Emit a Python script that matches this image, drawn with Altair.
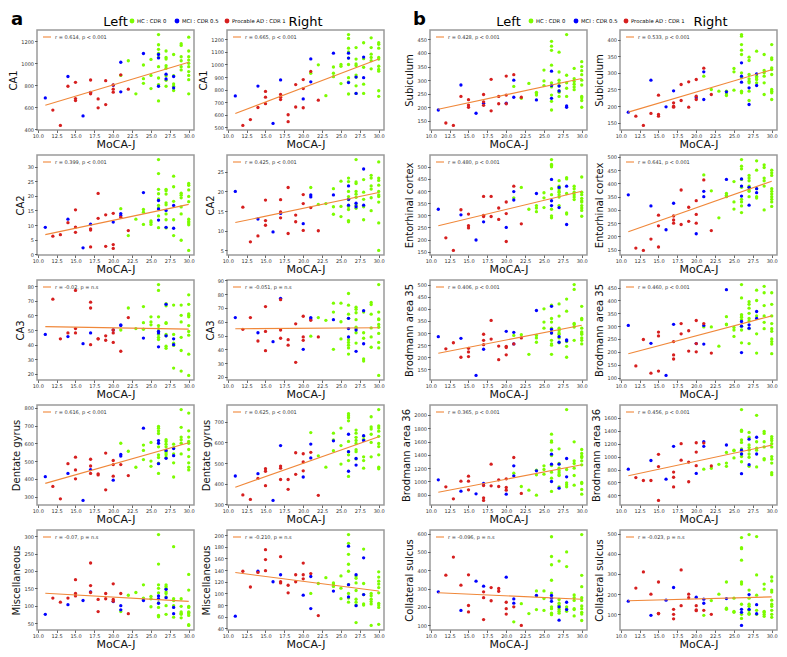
import altair as alt
import pandas as pd

GROUPS = ["HC : CDR 0", "MCI : CDR 0.5", "Procable AD : CDR 1"]
COLORS = ["#7CFC00", "#0000FF", "#D61F1F"]
LINE_COLOR = "#F0883A"

X_TICKS = [10.0, 12.5, 15.0, 17.5, 20.0, 22.5, 25.0, 27.5, 30.0]

GREEN_MOCA = [21, 22, 23, 24, 24, 24, 25, 25, 25,
              26, 26, 26, 26, 26, 26, 26, 26, 26,
              27, 27, 27, 27, 27, 27, 27, 27,
              28, 28, 28, 28, 28,
              29, 29, 29, 29, 29, 29,
              30, 30, 30, 30, 30, 30, 30, 30, 30, 30]
BLUE_MOCA = [11, 14, 16, 17, 20, 21, 21, 24, 26, 26, 26, 27, 27, 28, 28]
RED_MOCA = [12, 13, 14, 15, 15, 15, 17, 17, 17, 18, 18, 19, 19, 20, 20, 20, 21, 22]

# ---- panel a ----
CA1_L = dict(
    red=[573, 433, 791, 827, 678, 660, 848, 731, 722, 675, 594, 842, 624, 803, 764, 737, 895, 764],
    blue=[684, 880, 520, 735, 800, 1010, 740, 1090, 1081, 791, 1050, 901, 857, 880, 776],
    green=[890, 1024, 722, 985, 860, 818, 1036, 890, 770, 1263, 1170, 1128, 1090, 1054, 970, 866, 806, 657,
           1113, 1054, 1039, 979, 955, 887, 845, 791, 1081, 887, 812, 752, 791, 1179, 1164, 1060, 1024, 940, 970,
           1239, 1113, 1030, 1000, 970, 925, 890, 851, 722, 1060])
CA1_R = dict(
    red=[515, 562, 658, 786, 740, 688, 762, 721, 740, 600, 545, 840, 662, 880, 808, 656, 945, 716],
    blue=[750, 828, 531, 877, 726, 1044, 862, 1090, 1090, 1051, 856, 900, 770, 1059, 895],
    green=[930, 997, 752, 980, 930, 903, 1000, 986, 848, 1238, 1207, 1130, 1100, 1051, 1000, 895, 862, 765,
           1134, 1043, 1004, 991, 916, 900, 830, 770, 1173, 1046, 978, 843, 770, 1212, 1134, 1082, 1056, 1030, 965,
           1173, 1160, 1130, 1056, 1043, 986, 960, 947, 791, 747])
CA2_L = dict(
    red=[6.2, 6.7, 10.8, 15.2, 9.3, 7.5, 8.7, 8.3, 2.5, 20.8, 12.3, 13.5, 2.7, 14.0, 3.3, 2.0, 12.7, 8.1],
    blue=[9.2, 12.0, 2.2, 10.3, 11.0, 13.9, 13.3, 21.1, 18.4, 11.7, 15.5, 15.0, 9.2, 16.7, 8.9],
    green=[15.6, 6.4, 12.0, 15.3, 14.4, 10.2, 11.4, 10.9, 10.2, 32.4, 27.6, 22.2, 20.7, 18.9, 16.7, 15.8, 13.1, 9.1,
           22.2, 21.7, 20.6, 17.6, 16.9, 13.8, 11.8, 9.0, 26.7, 23.1, 18.1, 11.8, 6.4, 20.9, 20.2, 19.3, 16.2, 13.8, 4.8,
           24.2, 23.6, 22.0, 19.8, 18.0, 12.0, 11.2, 10.7, 10.1, 1.3])
CA2_R = dict(
    red=[16.0, 7.2, 8.7, 17.8, 12.6, 11.4, 17.9, 13.3, 14.8, 21.0, 9.3, 12.3, 14.0, 19.2, 16.9, 10.1, 15.9, 10.0],
    blue=[20.0, 13.0, 9.7, 14.4, 11.8, 19.1, 18.6, 19.1, 21.4, 16.5, 18.0, 17.0, 16.1, 25.7, 16.5],
    green=[21.0, 16.7, 16.9, 20.7, 16.1, 14.2, 22.6, 16.2, 13.6, 23.4, 22.5, 20.0, 18.7, 17.9, 16.2, 15.4, 12.6, 12.3,
           28.1, 22.4, 22.0, 20.0, 19.3, 18.5, 16.5, 15.7, 23.0, 19.8, 18.0, 16.1, 12.8, 24.1, 23.4, 21.4, 20.6, 18.4, 15.1,
           27.5, 23.4, 22.8, 21.6, 20.0, 19.1, 18.7, 17.3, 12.0, 5.0])
CA3_L = dict(
    red=[71, 44, 48, 77, 51, 48, 69, 65, 40, 44, 44, 46, 43, 50, 48, 41.5, 35.5, 58.5],
    blue=[47, 45.5, 40.7, 48, 50, 53.5, 53, 44.5, 49, 38.5, 48, 67.5, 46, 44, 40],
    green=[50, 65, 51, 66, 55, 50.5, 59, 55.5, 53.5, 81, 77, 59, 53, 51, 49, 47, 45, 43.5,
           68, 66.5, 55, 54.5, 47, 46, 39, 37.5, 67, 47, 41, 39.5, 24, 67, 60, 55.5, 45, 36, 22,
           74, 67.5, 61, 60, 59, 53, 49, 46.5, 33.5, 19])
CA3_R = dict(
    red=[54.5, 63, 46, 71, 53, 39, 76, 54, 48, 43, 47, 58.5, 30.5, 64, 49, 46.5, 61, 49],
    blue=[63, 52, 45.5, 77, 40, 63, 62, 61.5, 62.5, 49, 55, 54, 38.5, 68, 44],
    green=[49.5, 63, 61, 73.5, 67, 40, 73.5, 47.5, 60, 80.5, 72, 65.5, 62.5, 47, 45, 43, 41, 36.5,
           70.5, 69, 66.5, 61.5, 56, 55, 44.5, 52, 67, 52, 33, 31.5, 48, 74, 72.5, 65.5, 55.5, 49, 41.5,
           87, 67, 62, 61.5, 56, 51.5, 45, 41, 21, 58])
DG_L = dict(
    red=[357, 287, 485, 522, 450, 400, 510, 472, 430, 428, 422, 545, 338, 503, 480, 415, 480, 418],
    blue=[412, 430, 278, 452, 392, 537, 528, 685, 615, 485, 600, 515, 560, 570, 530],
    green=[600, 555, 465, 590, 508, 560, 605, 500, 470, 695, 685, 670, 655, 580, 535, 520, 488, 430,
           620, 610, 595, 580, 555, 545, 535, 520, 595, 575, 490, 410, 540, 790, 690, 635, 600, 620, 540,
           770, 670, 635, 610, 600, 565, 525, 465, 450, 490])
DG_R = dict(
    red=[345, 323, 425, 472, 460, 390, 485, 475, 420, 420, 372, 550, 445, 545, 505, 462, 552, 343],
    blue=[437, 448, 318, 585, 432, 592, 525, 608, 640, 460, 555, 522, 490, 633, 610],
    green=[648, 535, 480, 645, 612, 560, 670, 585, 495, 740, 730, 720, 705, 605, 555, 540, 512, 435,
           660, 645, 625, 610, 595, 565, 555, 520, 630, 615, 530, 512, 475, 725, 675, 665, 640, 600, 530,
           760, 680, 670, 655, 630, 595, 580, 540, 480, 472])
MISC_L = dict(
    red=[122, 110, 122, 175, 135, 128, 223, 158, 138, 83, 118, 135, 120, 163, 118, 113, 135, 77],
    blue=[75, 103, 115, 140, 112, 100, 88, 115, 128, 107, 120, 147, 123, 95, 77],
    green=[83, 130, 138, 160, 122, 118, 127, 120, 97, 305, 220, 160, 150, 137, 108, 95, 72, 68,
           160, 155, 150, 140, 135, 125, 75, 100, 270, 120, 115, 67, 100, 120, 98, 82, 78, 75, 65,
           190, 145, 98, 95, 82, 80, 77, 72, 45, 43])
MISC_R = dict(
    red=[138, 111, 136, 175, 158, 139, 163, 120, 118, 114, 101, 132, 120, 152, 132, 125, 134, 62],
    blue=[61, 138, 120, 132, 97, 129, 74, 104, 181, 94, 115, 132, 79, 161, 98],
    green=[100, 117, 127, 118, 116, 112, 130, 109, 91, 201, 186, 167, 150, 138, 115, 100, 92, 85,
           130, 126, 118, 105, 90, 85, 80, 50, 176, 117, 82, 80, 98, 100, 96, 90, 86, 82, 45,
           137, 128, 121, 116, 101, 83, 80, 76, 47, 110])

# ---- panel b ----
SUB_L = dict(
    red=[142, 133, 240, 228, 208, 200, 247, 207, 220, 303, 187, 240, 213, 315, 245, 213, 320, 237],
    blue=[190, 282, 178, 215, 215, 300, 237, 227, 333, 233, 280, 278, 260, 205, 200],
    green=[277, 233, 288, 255, 250, 245, 337, 297, 280, 443, 425, 410, 355, 290, 275, 245, 222, 190,
           403, 330, 300, 290, 280, 260, 255, 240, 468, 318, 270, 240, 290, 343, 305, 295, 285, 275, 265,
           368, 350, 335, 320, 282, 240, 235, 225, 200, 300])
SUB_R = dict(
    red=[170, 142, 178, 233, 175, 170, 200, 197, 210, 265, 217, 273, 197, 280, 230, 220, 314, 235],
    blue=[182, 278, 198, 246, 225, 303, 220, 243, 330, 272, 290, 255, 205, 297, 262],
    green=[290, 250, 245, 245, 237, 232, 313, 303, 248, 415, 410, 385, 368, 355, 300, 285, 245, 240,
           347, 337, 295, 282, 275, 270, 245, 217, 365, 290, 285, 270, 280, 355, 307, 300, 290, 270, 235,
           385, 345, 340, 315, 295, 250, 245, 240, 220, 310])
EC_L = dict(
    red=[207, 155, 323, 305, 257, 248, 378, 295, 300, 378, 295, 330, 283, 355, 307, 192, 420, 265],
    blue=[325, 302, 198, 273, 250, 398, 363, 390, 448, 340, 360, 415, 332, 420, 262],
    green=[372, 415, 325, 340, 315, 330, 393, 372, 332, 530, 510, 505, 500, 410, 385, 325, 298, 290,
           443, 420, 410, 400, 395, 385, 340, 375, 455, 450, 310, 305, 390, 420, 410, 395, 385, 375, 365,
           458, 395, 385, 370, 355, 340, 330, 320, 296, 360])
EC_R = dict(
    red=[156, 147, 190, 280, 240, 160, 277, 250, 262, 375, 245, 310, 257, 335, 283, 250, 413, 222],
    blue=[357, 315, 225, 325, 210, 370, 350, 415, 417, 352, 390, 385, 318, 380, 365],
    green=[432, 372, 270, 362, 355, 350, 407, 330, 303, 490, 465, 455, 415, 385, 340, 330, 315, 290,
           430, 420, 410, 390, 385, 375, 370, 350, 485, 450, 380, 350, 345, 470, 460, 420, 410, 390, 300,
           450, 440, 430, 380, 370, 360, 350, 340, 330, 313])
BA35_L = dict(
    red=[235, 260, 200, 237, 222, 203, 295, 252, 270, 352, 275, 246, 190, 245, 240, 210, 255, 280],
    blue=[285, 278, 125, 233, 307, 303, 255, 393, 410, 315, 300, 285, 262, 272, 268],
    green=[290, 293, 212, 290, 280, 262, 400, 345, 320, 415, 360, 345, 320, 300, 270, 255, 250, 212,
           420, 370, 320, 310, 300, 295, 280, 260, 440, 390, 265, 245, 200, 500, 480, 340, 335, 325, 270,
           410, 360, 355, 320, 305, 295, 280, 270, 255, 300])
BA35_R = dict(
    red=[145, 248, 117, 277, 262, 125, 188, 172, 240, 310, 270, 282, 203, 322, 232, 200, 310, 195],
    blue=[303, 233, 108, 307, 232, 303, 230, 442, 318, 197, 300, 305, 292, 357, 330],
    green=[297, 297, 222, 337, 308, 305, 295, 285, 260, 462, 410, 345, 340, 335, 325, 285, 235, 300,
           395, 385, 370, 350, 330, 320, 290, 232, 440, 400, 340, 270, 195, 455, 430, 380, 340, 315, 290,
           430, 385, 340, 310, 290, 250, 240, 230, 193, 280])
BA36_L = dict(
    red=[920, 740, 1005, 1080, 1005, 875, 755, 715, 940, 1260, 935, 1025, 925, 1040, 910, 870, 1360, 820],
    blue=[1025, 855, 815, 970, 810, 1235, 1085, 1160, 1410, 1000, 1260, 1260, 900, 1345, 1070],
    green=[1125, 925, 870, 1170, 1100, 795, 1235, 1110, 1180, 1710, 1610, 1590, 1470, 1390, 1240, 1140, 1050, 850,
           1490, 1270, 1200, 1160, 1130, 1100, 1090, 920, 2080, 1180, 980, 950, 920, 1595, 1310, 1270, 1200, 1090, 945,
           1480, 1420, 1380, 1360, 1310, 1250, 985, 970, 880, 810])
BA36_R = dict(
    red=[675, 630, 630, 1035, 845, 320, 680, 530, 760, 1200, 945, 915, 610, 1215, 1070, 860, 1210, 855],
    blue=[805, 940, 650, 1160, 740, 1230, 1160, 1180, 1040, 735, 1100, 1270, 875, 1300, 1040],
    green=[805, 820, 880, 1065, 900, 850, 1090, 980, 1100, 1730, 1410, 1390, 1260, 1220, 1120, 1040, 920, 1000,
           1375, 1300, 1180, 1140, 1100, 1040, 990, 850, 1640, 1230, 1130, 1100, 840, 1390, 1360, 1230, 1150, 970, 950,
           1310, 1280, 1250, 1200, 1150, 1000, 960, 900, 750, 720])
CS_L = dict(
    red=[373, 472, 318, 375, 207, 172, 282, 130, 250, 305, 233, 300, 285, 225, 160, 190, 200, 98],
    blue=[282, 180, 340, 313, 362, 243, 220, 262, 262, 247, 230, 200, 127, 225, 185],
    green=[118, 217, 163, 287, 185, 260, 287, 245, 180, 583, 475, 430, 345, 275, 200, 190, 165, 157,
           450, 220, 208, 195, 185, 175, 165, 240, 500, 420, 190, 175, 200, 265, 250, 235, 190, 185, 150,
           595, 372, 310, 250, 235, 205, 190, 170, 160, 125])
CS_R = dict(
    red=[230, 310, 200, 260, 105, 103, 100, 78, 125, 320, 143, 200, 182, 143, 122, 118, 120, 100],
    blue=[165, 95, 170, 233, 185, 175, 155, 178, 110, 45, 125, 198, 125, 148, 103],
    green=[95, 168, 200, 260, 130, 125, 115, 110, 180, 480, 430, 425, 368, 260, 250, 150, 100, 80,
           495, 220, 150, 140, 120, 105, 100, 180, 485, 295, 195, 120, 100, 250, 225, 115, 110, 100, 90,
           285, 265, 220, 170, 150, 140, 120, 100, 85, 210])

# (label, note, y tick values, data)
PANELS_A = [
    ("CA1", "r = 0.614, p < 0.001", [400, 600, 800, 1000, 1200], CA1_L),
    ("CA1", "r = 0.665, p < 0.001", [500, 600, 700, 800, 900, 1000, 1100, 1200], CA1_R),
    ("CA2", "r = 0.399, p < 0.001", [0, 5, 10, 15, 20, 25, 30], CA2_L),
    ("CA2", "r = 0.425, p < 0.001", [5, 10, 15, 20, 25], CA2_R),
    ("CA3", "r = -0.02, p = n.s", [20, 30, 40, 50, 60, 70, 80], CA3_L),
    ("CA3", "r = -0.051, p = n.s", [20, 30, 40, 50, 60, 70, 80, 90], CA3_R),
    ("Dentate gyrus", "r = 0.616, p < 0.001", [300, 400, 500, 600, 700, 800], DG_L),
    ("Dentate gyrus", "r = 0.625, p < 0.001", [300, 400, 500, 600, 700], DG_R),
    ("Miscellaneous", "r = -0.07, p = n.s", [50, 100, 150, 200, 250, 300], MISC_L),
    ("Miscellaneous", "r = -0.210, p = n.s", [40, 60, 80, 100, 120, 140, 160, 180, 200], MISC_R),
]
PANELS_B = [
    ("Subiculum", "r = 0.428, p < 0.001", [150, 200, 250, 300, 350, 400, 450], SUB_L),
    ("Subiculum", "r = 0.533, p < 0.001", [150, 200, 250, 300, 350, 400], SUB_R),
    ("Entorhinal cortex", "r = 0.480, p < 0.001", [150, 200, 250, 300, 350, 400, 450, 500], EC_L),
    ("Entorhinal cortex", "r = 0.641, p < 0.001", [150, 200, 250, 300, 350, 400, 450, 500], EC_R),
    ("Brodmann area 35", "r = 0.406, p < 0.001", [100, 150, 200, 250, 300, 350, 400, 450, 500], BA35_L),
    ("Brodmann area 35", "r = 0.460, p < 0.001", [100, 150, 200, 250, 300, 350, 400, 450], BA35_R),
    ("Brodmann area 36", "r = 0.365, p < 0.001", [800, 1000, 1200, 1400, 1600, 1800, 2000], BA36_L),
    ("Brodmann area 36", "r = 0.456, p < 0.001", [400, 600, 800, 1000, 1200, 1400, 1600], BA36_R),
    ("Collateral sulcus", "r = -0.096, p = n.s", [100, 200, 300, 400, 500, 600], CS_L),
    ("Collateral sulcus", "r = -0.023, p = n.s", [100, 200, 300, 400, 500], CS_R),
]

W, H = 157, 100
COL_GAP = 33     # inner column gap (room for the y axis of the right panel)
ROW_GAP = 25     # row gap (room for the x axis)
BLOCK_GAP = 15   # gap between panel a and panel b (plus the y axis of panel b)
ONE = alt.Data(values=[{}])


def htext(t, x, y, size, weight="normal", align="center"):
    return alt.Chart(ONE).mark_text(text=t, fontSize=size, fontWeight=weight, align=align,
                                    baseline="alphabetic", color="#000").encode(
        x=alt.value(x), y=alt.value(y))


def legend_items(x0):
    out = []
    offs = [0, 45, 95]
    for i, g in enumerate(GROUPS):
        out.append(alt.Chart(ONE).mark_circle(size=24, color=COLORS[i], opacity=1).encode(
            x=alt.value(x0 + offs[i]), y=alt.value(-9)))
        out.append(htext(g, x0 + offs[i] + 5, -7, 5.3, "normal", "left"))
    return out


def panel(label, note, ticks, d, extra=()):
    assert len(d["green"]) == len(GREEN_MOCA)
    assert len(d["blue"]) == len(BLUE_MOCA)
    assert len(d["red"]) == len(RED_MOCA)
    df = pd.DataFrame({
        "moca": GREEN_MOCA + BLUE_MOCA + RED_MOCA,
        "value": d["green"] + d["blue"] + d["red"],
        "group": [GROUPS[0]] * len(GREEN_MOCA) + [GROUPS[1]] * len(BLUE_MOCA) + [GROUPS[2]] * len(RED_MOCA),
    })
    lo, hi = float(df["value"].min()), float(df["value"].max())
    pad = 0.05 * (hi - lo)
    dom = [lo - pad, hi + pad]
    tv = [t for t in ticks if dom[0] <= t <= dom[1]]
    xs = alt.Scale(domain=[9.9, 30.7], nice=False, zero=False)
    ys = alt.Scale(domain=dom, nice=False, zero=False)
    x = alt.X("moca:Q", scale=xs, axis=alt.Axis(values=X_TICKS, format=".1f", title="MoCA-J"))
    y = alt.Y("value:Q", scale=ys, axis=alt.Axis(values=tv, format="d", title=label))
    pts = alt.Chart(df).mark_circle(size=11, opacity=1).encode(
        x=x, y=y,
        color=alt.Color("group:N", scale=alt.Scale(domain=GROUPS, range=COLORS), legend=None),
    )
    fit = alt.Chart(df).transform_regression("moca", "value").mark_line(
        color=LINE_COLOR, strokeWidth=1.1).encode(x=x, y=y)
    key = alt.Chart(ONE).mark_rule(color=LINE_COLOR, strokeWidth=1.1).encode(
        x=alt.value(6), x2=alt.value(14), y=alt.value(7))
    txt = alt.Chart(ONE).mark_text(text=note, fontSize=5, align="left", baseline="middle",
                                   color="#333").encode(x=alt.value(18), y=alt.value(7))
    return alt.layer(pts, fit, key, txt, *extra).properties(width=W, height=H)


# header marks placed in the top-row panels (negative y = above the plot frame)
HEAD_A = {
    0: [htext("a", -26, -5, 18, "bold", "left"), htext("Left", W / 2, -4, 13)] + legend_items(95),
    1: [htext("Right", W / 2, -4, 13)],
}
HEAD_B = {
    0: [htext("b", -17, -5, 18, "bold", "left"), htext("Left", W / 2, -4, 13)] + legend_items(101),
    1: [htext("Right", W / 2 + 12, -4, 13)],
}

spacing = {"row": ROW_GAP, "column": COL_GAP}
blockA = alt.concat(*[panel(*p, extra=HEAD_A.get(i, ())) for i, p in enumerate(PANELS_A)],
                    columns=2, spacing=spacing, bounds="flush")
blockB = alt.concat(*[panel(*p, extra=HEAD_B.get(i, ())) for i, p in enumerate(PANELS_B)],
                    columns=2, spacing=spacing, bounds="flush")

chart = alt.hconcat(blockA, blockB, spacing=BLOCK_GAP).properties(
    padding={"left": 0, "top": 2, "right": 0, "bottom": 0}
).configure(font="DejaVu Sans").configure_view(
    stroke="#9a9a9a", strokeWidth=1.5
).configure_axis(
    labelFontSize=5, labelColor="#333", tickColor="#444", tickSize=2.5, tickWidth=0.8,
    domain=False, grid=False, labelPadding=1, titlePadding=2, titleFontWeight="normal",
    titleColor="#111", labelFlush=False
).configure_axisX(titleFontSize=11, titlePadding=0, labelPadding=0.5).configure_axisY(titleFontSize=10)

chart.save("out.html", embed_options={"renderer": "svg", "actions": False})
